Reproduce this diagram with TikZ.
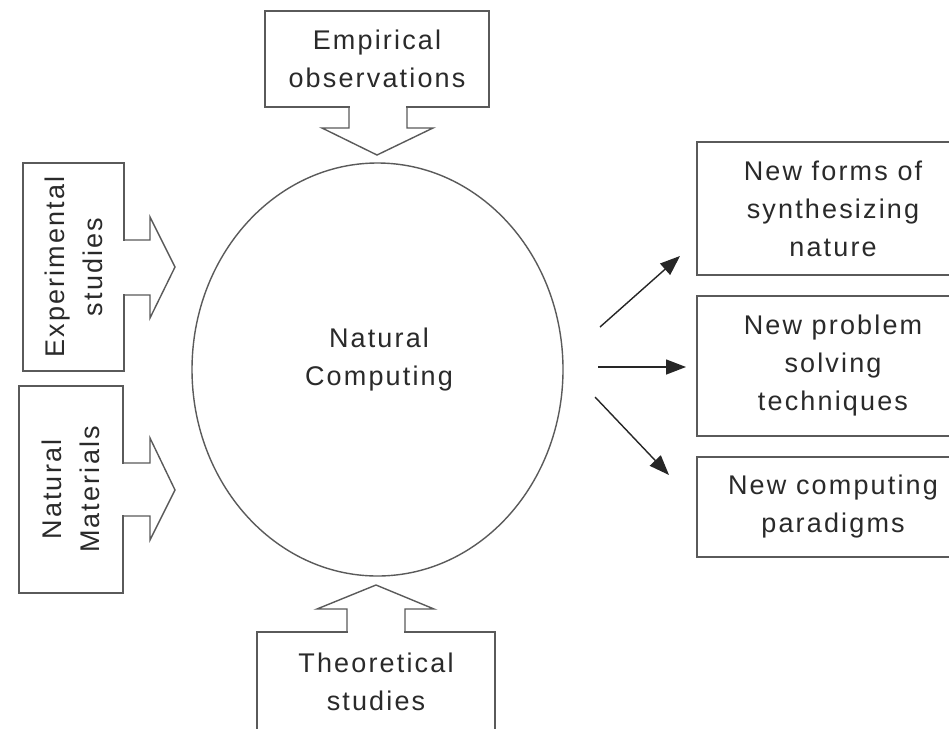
\documentclass[tikz,border=0pt]{standalone}
\usepackage{fontspec}
\setmainfont{Liberation Sans}[LetterSpace=8]
\usetikzlibrary{shapes.geometric,arrows.meta}
\definecolor{edge}{HTML}{5A5A5A}
\definecolor{txt}{HTML}{2A2A2A}
\tikzset{
  box/.style={draw=edge, line width=1.4pt, fill=white, inner sep=0pt, text=txt,
    align=center, font=\fontsize{27}{38}\selectfont},
  blockarrow/.style={draw=edge, line width=1.4pt, line join=miter},
  outarrow/.style={draw=black!85, line width=1.4pt,
    -{Triangle[length=20pt,width=15pt]}},
  lbl/.style={text=txt, align=center, font=\fontsize{27}{38}\selectfont}
}
\begin{document}
\begin{tikzpicture}[x=1pt,y=-1pt]
\useasboundingbox (0,0) rectangle (949,728);
\clip (0,0) rectangle (949,728);
\fill[white] (0,0) rectangle (949,728);

% central ellipse
\node[ellipse, draw=edge, line width=1.4pt, minimum width=371pt, minimum height=413pt] (nc) at (377.5,369.5) {};
\node[lbl] (nclabel) at (379,360) {Natural\\Computing};

% top box and arrow
\node[box, minimum width=224pt, minimum height=96pt] (emp) at (377,59) {Empirical\\observations};
\fill[white] (350,104) rectangle (406,112);
\draw[blockarrow] (349,107) -- (349,128) -- (322,128) -- (377,155) -- (433,128) -- (407,128) -- (407,107);

% left boxes and arrows (rotated: width is the vertical extent)
\node[box, minimum width=208pt, minimum height=101pt, rotate=90] (exp) at (73.5,267) {Experimental\\studies};
\fill[white] (121,241) rectangle (127,294);
\draw[blockarrow] (124,240) -- (150,240) -- (150,217) -- (175,267) -- (150,318) -- (150,295) -- (124,295);

\node[box, minimum width=207pt, minimum height=104pt, rotate=90] (mat) at (71,489.5) {Natural\\Materials};
\fill[white] (120,464) rectangle (126,515);
\draw[blockarrow] (123,463) -- (150,463) -- (150,438) -- (175,490) -- (150,540) -- (150,516) -- (123,516);

% bottom box and arrow
\node[box, minimum width=238pt, minimum height=100pt] (theo) at (376,682) {Theoretical\\studies};
\fill[white] (348,629) rectangle (404,635);
\draw[blockarrow] (347,632) -- (347,609) -- (317,609) -- (376,585) -- (434,609) -- (405,609) -- (405,632);

% right boxes
\node[box, minimum width=272pt, minimum height=133pt] (syn) at (833,208.5) {New forms of\\synthesizing\\nature};
\node[box, minimum width=272pt, minimum height=140pt] (prob) at (833,366) {New problem\\solving\\techniques};
\node[box, minimum width=272pt, minimum height=100pt] (para) at (833,507) {New computing\\paradigms};

% output arrows
\coordinate (s1) at (600,327);
\coordinate (s2) at (598,367);
\coordinate (s3) at (595,397);
\coordinate (e1) at (680,256);
\coordinate (e2) at (686,367);
\coordinate (e3) at (669,475);
\draw[outarrow] (s1) -- (e1);
\draw[outarrow] (s2) -- (e2);
\draw[outarrow] (s3) -- (e3);
\end{tikzpicture}
\end{document}
